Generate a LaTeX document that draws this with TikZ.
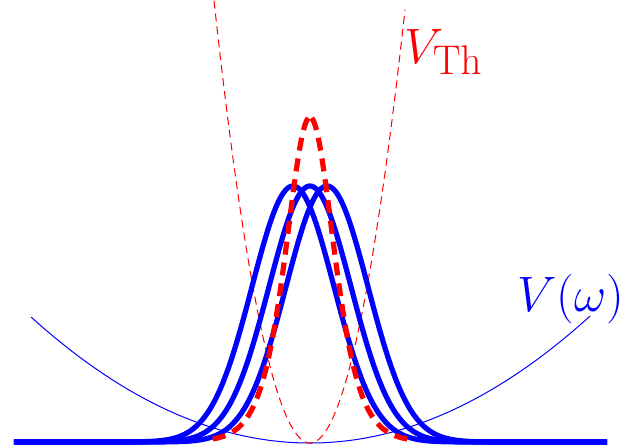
\documentclass[tikz,border=0pt]{standalone}
\usetikzlibrary{positioning}
\DeclareMathSizes{26}{26}{22}{17}

\begin{document}
\begin{tikzpicture}[x=0.5pt, y=0.5pt,
  packet/.style={blue, line width=2.6pt, line join=round},
  trap/.style={blue, line width=0.5pt},
  thpacket/.style={red, line width=2.6pt, dash pattern=on 6.5pt off 4pt, dash phase=9.5pt},
  thtrap/.style={red, line width=0.5pt, dash pattern=on 4pt off 2.5pt},
  lbl/.style={inner sep=0pt, font=\fontsize{26}{30}\selectfont}]
  \useasboundingbox (-310,-4) rectangle (315,442);
  % harmonic trap and thermal trap
  \draw[trap] plot[domain=-279:280, samples=120, smooth] (\x, {-1+126*(\x/279)^2});
  \draw[thtrap] plot[domain=-96:95, samples=80, smooth] (\x, {-1+0.048*\x*\x});
  % three shifted packets
  \foreach \c in {-17,0,17}
    \draw[packet] plot[domain=-296:297, samples=250, smooth] (\x, {256*exp(-0.5*((\x-\c)/41)^2)});
  % thermal packet, drawn outwards from its peak
  \foreach \e in {-104,104}
    \draw[thpacket] plot[domain=0:\e, samples=70, smooth] (\x, {325/(cosh(\x/32)^2)});
  \node[lbl, red, anchor=base west] (vth) at (94,379) {$V_{\mathrm{Th}}$};
  \node[lbl, blue, anchor=base west] (vw) at (207,131) {$V(\omega)$};
\end{tikzpicture}
\end{document}
